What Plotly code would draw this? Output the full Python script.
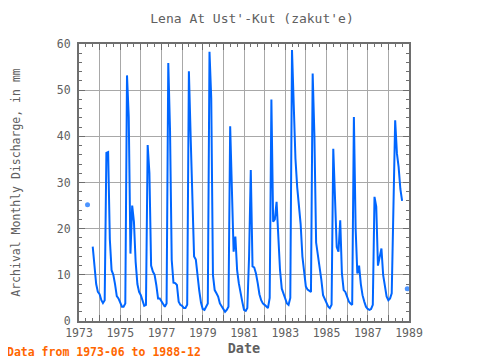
import pandas as pd
import plotly.graph_objects as go

# Monthly discharge (mm), Jan..Dec for each year; None = missing
y1973 = [None, None, None, None, None, 25.2, None, None, 16.1, 12.0, 8.0, 6.3]
y1974 = [5.8, 4.5, 3.9, 4.5, 36.4, 36.6, 17.7, 11.0, 10.0, 8.0, 5.4, 4.9]
y1975 = [3.8, 3.1, 3.1, 3.8, 53.2, 44.2, 14.6, 25.0, 21.5, 12.8, 8.0, 6.3]
y1976 = [5.6, 4.2, 3.3, 3.5, 38.1, 32.0, 12.0, 10.7, 10.0, 7.8, 4.9, 4.9]
y1977 = [4.2, 3.8, 3.1, 3.8, 55.9, 41.3, 13.2, 8.3, 8.2, 7.8, 4.2, 3.5]
y1978 = [3.3, 2.8, 2.8, 3.5, 54.1, 40.0, 24.0, 14.0, 13.3, 9.6, 6.5, 4.0]
y1979 = [2.6, 2.4, 3.1, 3.8, 58.3, 48.2, 10.0, 6.7, 6.0, 5.3, 3.8, 3.1]
y1980 = [2.4, 2.0, 2.4, 3.1, 42.2, 30.0, 15.0, 18.3, 11.0, 8.2, 5.6, 4.2]
y1981 = [2.4, 2.2, 2.8, 14.0, 32.7, 11.8, 11.6, 10.3, 8.2, 5.8, 4.5, 3.8]
y1982 = [3.5, 3.1, 2.8, 5.0, 48.0, 21.5, 22.0, 25.8, 18.0, 11.0, 7.0, 5.8]
y1983 = [4.5, 3.8, 3.5, 5.0, 58.7, 46.0, 35.2, 29.0, 25.0, 21.0, 14.0, 11.0]
y1984 = [7.5, 6.8, 6.6, 6.3, 53.6, 40.0, 17.0, 14.6, 12.3, 9.0, 5.6, 4.8]
y1985 = [3.8, 3.1, 2.8, 3.5, 37.3, 26.0, 16.0, 15.0, 21.8, 10.3, 6.7, 6.3]
y1986 = [5.3, 4.2, 3.8, 3.5, 44.2, 20.0, 10.3, 12.0, 8.0, 5.6, 4.2, 3.1]
y1987 = [2.6, 2.4, 2.6, 3.5, 26.9, 24.8, 12.0, 14.0, 15.7, 10.0, 7.0, 5.3]
y1988 = [4.5, 4.9, 6.0, 24.8, 43.5, 36.3, 33.4, 28.6, 26.0, None, None, 7.0]

years = list(range(1973, 1989))
year_values = [y1973, y1974, y1975, y1976, y1977, y1978, y1979, y1980,
               y1981, y1982, y1983, y1984, y1985, y1986, y1987, y1988]

values = [v for yr in year_values for v in yr]
dates = pd.date_range("1973-01-01", "1988-12-01", freq="MS")

# isolated points (no neighbours) get a visible marker
sizes = []
for i, v in enumerate(values):
    prev_ok = i > 0 and values[i - 1] is not None
    next_ok = i < len(values) - 1 and values[i + 1] is not None
    sizes.append(5 if (v is not None and not prev_ok and not next_ok) else 0)

tick_years = list(range(1973, 1990))
tick_vals = [f"{y}-01-01" for y in tick_years]
tick_text = [str(y) if (y - 1973) % 2 == 0 else "" for y in tick_years]

FONT = "DejaVu Sans Mono"
GREY = "#606060"
FRAME = "#6e6e6e"
GRID = "#a8a8a8"

# the page body adds an 8px offset, so margins are set 8px smaller on top/left
fig = go.Figure()
fig.add_trace(go.Scatter(
    x=dates, y=values, mode="lines+markers",
    line=dict(color="#0066ff", width=2),
    marker=dict(color="#0066ff", size=sizes, line=dict(width=0)),
    connectgaps=False, hoverinfo="skip",
))

fig.update_layout(
    width=480, height=360,
    margin=dict(l=71, r=79, t=36, b=47, autoexpand=False),
    plot_bgcolor="white", paper_bgcolor="white",
    showlegend=False,
    font=dict(family=FONT, color=GREY, size=11.5),
    title=dict(text="Lena At Ust'-Kut (zakut'e)", x=244 / 480, xanchor="center",
               y=1 - 10 / 360, yanchor="middle", yref="container",
               font=dict(family=FONT, size=13, color=GREY)),
)

fig.update_xaxes(
    type="date", range=["1973-01-01", "1989-01-01"], automargin=False,
    tickmode="array", tickvals=tick_vals, ticktext=tick_text,
    ticks="inside", ticklen=6, tickwidth=1, tickcolor=FRAME,
    showgrid=True, gridcolor=GRID, gridwidth=1,
    showline=True, linecolor=FRAME, linewidth=2, mirror="ticks",
    minor=dict(dtick="M4", ticks="inside", ticklen=3, tickwidth=1, tickcolor=FRAME, showgrid=False),
    tickfont=dict(family=FONT, size=11.5, color=GREY),
    title=dict(text="<b>Date</b>", standoff=3, font=dict(family=FONT, size=13.5, color=GREY)),
    zeroline=False, layer="above traces",
)
fig.update_yaxes(
    range=[0, 60], dtick=10, tick0=0, automargin=False,
    ticks="inside", ticklen=6, tickwidth=1, tickcolor=FRAME,
    showgrid=True, gridcolor=GRID, gridwidth=1,
    showline=True, linecolor=FRAME, linewidth=2, mirror="ticks",
    minor=dict(dtick=2, ticks="inside", ticklen=3, tickwidth=1, tickcolor=FRAME, showgrid=False),
    tickfont=dict(family=FONT, size=11.5, color=GREY),
    ticklabelstandoff=4,
    title=dict(text="Archival Monthly Discharge, in mm", standoff=34,
               font=dict(family=FONT, size=11.5, color=GREY)),
    zeroline=False, layer="above traces",
)

fig.add_annotation(
    text="<b>Data from 1973-06 to 1988-12</b>",
    xref="paper", yref="paper",
    x=(5 - 79) / 330, xanchor="left",
    y=(321 - 352) / 277, yanchor="middle",
    showarrow=False,
    font=dict(family=FONT, size=11.5, color="#ff6600"),
)

fig.write_html("out.html")
